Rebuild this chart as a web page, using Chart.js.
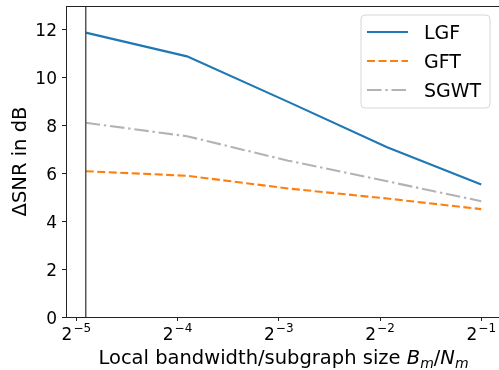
<!DOCTYPE html>
<html>
<head>
<meta charset="utf-8">
<script src="https://cdn.jsdelivr.net/npm/chart.js@4/dist/chart.umd.min.js"></script>
<style>
html,body{margin:0;padding:0;background:#fff;overflow:hidden;width:499px;height:370px;}
#wrap{position:absolute;left:0;top:0;width:505px;height:370px;}
</style>
</head>
<body>
<div id="wrap"><canvas id="c" width="505" height="370"></canvas></div>
<script>
// log2 of the local bandwidth / subgraph size ratio
const xExp = [-4.907, -3.907, -2.907, -1.93, -1.0];
const seriesNames = ['LGF', 'GFT', 'SGWT'];
const lgf  = [11.86, 10.87, 8.97, 7.08, 5.53];
const gft  = [6.08, 5.89, 5.36, 4.94, 4.5];
const sgwt = [8.1, 7.54, 6.52, 5.66, 4.83];
const xTickExp = [-5, -4, -3, -2, -1];
const yTicks = [0, 2, 4, 6, 8, 10, 12];
const yLabel = 'ΔSNR in dB';
const xLabelText = 'Local bandwidth/subgraph size ';

const FONT = '"DejaVu Sans", sans-serif';

function pts(vals){ return vals.map((v,i)=>({x:xExp[i], y:v})); }

const decor = {
  id:'decor',
  afterDatasetsDraw(chart){
    const {ctx, chartArea:a, scales} = chart;
    const xs = scales.x;
    ctx.save();
    const vx = xs.getPixelForValue(xExp[0]);
    ctx.strokeStyle = '#555';
    ctx.lineWidth = 1.5;
    ctx.beginPath(); ctx.moveTo(vx, a.top); ctx.lineTo(vx, a.bottom); ctx.stroke();
    ctx.strokeStyle = '#222';
    ctx.lineWidth = 1;
    ctx.beginPath(); ctx.moveTo(a.left, a.top+0.5); ctx.lineTo(a.right, a.top+0.5); ctx.lineTo(a.right, a.bottom); ctx.stroke();
    ctx.restore();
  },
  afterDraw(chart){
    const {ctx, chartArea:a, scales} = chart;
    const xs = scales.x, ys = scales.y;
    ctx.save();
    ctx.fillStyle = '#000';
    ctx.textBaseline = 'alphabetic';
    // y tick labels
    ctx.font = '17px ' + FONT;
    ctx.textAlign = 'right';
    yTicks.forEach(v=>{
      const py = ys.getPixelForValue(v);
      ctx.fillText(String(v), a.left - 9, py + 7.2);
    });
    // x tick labels 2^{-n}
    xTickExp.forEach(e=>{
      const px = xs.getPixelForValue(e);
      ctx.font = '17px ' + FONT;
      const wb = ctx.measureText('2').width;
      ctx.font = '12px ' + FONT;
      const sup = '\u2212' + Math.abs(e);
      const ws = ctx.measureText(sup).width;
      const total = wb + 1 + ws;
      const x0 = px - total/2;
      ctx.font = '17px ' + FONT;
      ctx.textAlign = 'left';
      ctx.fillText('2', x0, 339.5);
      ctx.font = '12px ' + FONT;
      ctx.fillText(sup, x0 + wb + 1, 332);
    });
    // x axis label with math part B_m/N_m
    const parts = [
      {t:xLabelText, f:'19.5px '+FONT, dy:0},
      {t:'B', f:'italic 19.5px '+FONT, dy:0},
      {t:'m', f:'italic 14px '+FONT, dy:3.5},
      {t:'/', f:'19.5px '+FONT, dy:0},
      {t:'N', f:'italic 19.5px '+FONT, dy:0},
      {t:'m', f:'italic 14px '+FONT, dy:3.5}
    ];
    let tw = 0;
    parts.forEach(p=>{ ctx.font = p.f; p.w = ctx.measureText(p.t).width; tw += p.w; });
    let cx = (a.left + a.right)/2 - tw/2;
    const base = 364;
    parts.forEach(p=>{ ctx.font = p.f; ctx.textAlign='left'; ctx.fillText(p.t, cx, base + p.dy); cx += p.w; });
    // y axis label
    ctx.save();
    ctx.translate(25.5, (a.top + a.bottom)/2);
    ctx.rotate(-Math.PI/2);
    ctx.font = '19.5px ' + FONT;
    ctx.textAlign = 'center';
    ctx.fillText(yLabel, 0, 0);
    ctx.restore();
    // legend
    const lx = 361, ly = 15, lw = 129, lh = 93, r = 4;
    ctx.beginPath();
    ctx.moveTo(lx+r, ly); ctx.lineTo(lx+lw-r, ly); ctx.arcTo(lx+lw, ly, lx+lw, ly+r, r);
    ctx.lineTo(lx+lw, ly+lh-r); ctx.arcTo(lx+lw, ly+lh, lx+lw-r, ly+lh, r);
    ctx.lineTo(lx+r, ly+lh); ctx.arcTo(lx, ly+lh, lx, ly+lh-r, r);
    ctx.lineTo(lx, ly+r); ctx.arcTo(lx, ly, lx+r, ly, r);
    ctx.closePath();
    ctx.fillStyle = 'rgba(255,255,255,0.85)';
    ctx.fill();
    ctx.strokeStyle = '#d6d6d6';
    ctx.lineWidth = 1;
    ctx.stroke();
    chart.data.datasets.forEach((ds,i)=>{
      const yy = 32 + i*29;
      ctx.strokeStyle = ds.borderColor;
      ctx.lineWidth = ds.borderWidth;
      ctx.setLineDash(ds.borderDash || []);
      ctx.beginPath(); ctx.moveTo(367, yy); ctx.lineTo(408, yy); ctx.stroke();
      ctx.setLineDash([]);
      ctx.fillStyle = '#000';
      ctx.font = '19px ' + FONT;
      ctx.textAlign = 'left';
      ctx.fillText(ds.label, 424, yy + 7);
    });
    ctx.restore();
  }
};

new Chart(document.getElementById('c'), {
  type:'line',
  data:{
    datasets:[
      {label:seriesNames[0], data:pts(lgf), borderColor:'#1f77b4', borderWidth:2.1, pointRadius:0, tension:0, fill:false},
      {label:seriesNames[1], data:pts(gft), borderColor:'#ff7f0e', borderWidth:2.1, borderDash:[8,3.5], pointRadius:0, tension:0, fill:false},
      {label:seriesNames[2], data:pts(sgwt), borderColor:'#b3b3b3', borderWidth:2.1, borderDash:[14.5,3.8,2.4,3.8], pointRadius:0, tension:0, fill:false}
    ]
  },
  options:{
    responsive:false,
    animation:false,
    devicePixelRatio:1,
    layout:{padding:{top:6, right:4, left:0, bottom:0}},
    plugins:{legend:{display:false}, tooltip:{enabled:false}, title:{display:false}},
    scales:{
      x:{
        type:'linear', min:-5.102, max:-0.805,
        afterBuildTicks(s){ s.ticks = xTickExp.map(v=>({value:v})); },
        afterFit(s){ s.height = 53; },
        ticks:{display:false},
        grid:{display:true, drawOnChartArea:false, drawTicks:true, tickLength:4, color:'#222', lineWidth:1},
        border:{display:true, color:'#222', width:1}
      },
      y:{
        type:'linear', min:0, max:12.97,
        afterBuildTicks(s){ s.ticks = yTicks.map(v=>({value:v})); },
        afterFit(s){ s.width = 66; },
        ticks:{display:false},
        grid:{display:true, drawOnChartArea:false, drawTicks:true, tickLength:4, color:'#222', lineWidth:1},
        border:{display:true, color:'#222', width:1}
      }
    }
  },
  plugins:[decor]
});
</script>
</body>
</html>
